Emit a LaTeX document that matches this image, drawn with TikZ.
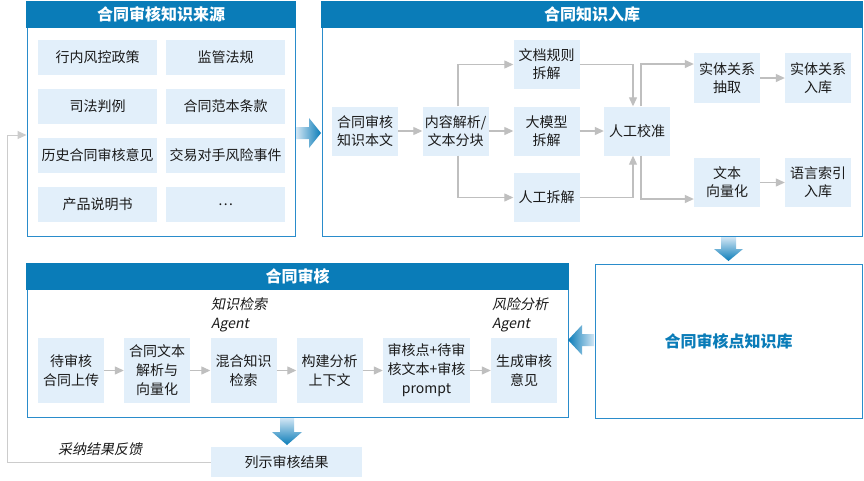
\documentclass[tikz,border=0pt]{standalone}
\usepackage{fontspec}
\setmainfont{Noto Sans CJK SC}
\newfontfamily\itfont{Noto Sans CJK SC}[FakeSlant=0.2]
\usetikzlibrary{arrows.meta,calc}
\definecolor{hdr}{HTML}{0A7CB8}
\definecolor{bdr}{HTML}{2A8CCB}
\definecolor{cellc}{HTML}{E2EFFA}
\definecolor{conn}{HTML}{BFBFBF}
\definecolor{fbc}{HTML}{CCCCCC}
\definecolor{txt}{HTML}{1A1A1A}
\definecolor{lightb}{HTML}{D2E6F4}
\begin{document}
\begin{tikzpicture}[x=1pt,y=-1pt,
  frame/.style={draw=bdr,line width=1pt,fill=white,minimum width=#1,inner sep=0pt},
  cell/.style={fill=cellc,draw=none,inner sep=0pt,align=center,text=txt,
     font=\fontsize{14}{18}\selectfont},
  ttl/.style={text=white,font=\bfseries\fontsize{16}{18}\selectfont,inner sep=0pt},
  conn/.style={draw=conn,line width=1.2pt,-{Triangle[length=9pt,width=8pt]}},
  lab/.style={font=\itfont\fontsize{14}{19}\selectfont,align=left,inner sep=0pt,text=txt}]
\useasboundingbox (0,0) rectangle (864,480);
\fill[white] (0,0) rectangle (864,480);

% ---- frames
\node[frame=268pt,minimum height=235pt] (box1) at (161,118.5) {};
\node[frame=540pt,minimum height=235pt] (box2) at (592,118.5) {};
\node[frame=541pt,minimum height=154pt] (rev) at (297.5,340) {};
\node[frame=267pt,minimum height=154pt,text=hdr,font=\bfseries\fontsize{16}{18}\selectfont] (kpb) at (728.5,341) {合同审核点知识库};

\fill[hdr] ($(box1.north west)+(-0.5,0)$) rectangle ($(box1.north east)+(0.5,27)$);
\fill[hdr] ($(box2.north west)+(-0.5,0)$) rectangle ($(box2.north east)+(0.5,27)$);
\fill[hdr] ($(rev.north west)+(-0.5,0)$) rectangle ($(rev.north east)+(0.5,27)$);
\node[ttl] (t1) at ($(box1.north)+(0,14)$) {合同审核知识来源};
\node[ttl] (t2) at ($(box2.north)+(0,14)$) {合同知识入库};
\node[ttl] (t3) at ($(rev.north)+(0,14)$) {合同审核};

% ---- sources
\tikzset{src/.style={cell,minimum width=119pt,minimum height=35pt}}
\node[src] (s1) at (97.5,57.5) {行内风控政策};
\node[src] (s2) at (225.5,57.5) {监管法规};
\node[src] (s3) at (97.5,106.5) {司法判例};
\node[src] (s4) at (225.5,106.5) {合同范本条款};
\node[src] (s5) at (97.5,155.5) {历史合同审核意见};
\node[src] (s6) at (225.5,155.5) {交易对手风险事件};
\node[src] (s7) at (97.5,204.5) {产品说明书};
\node[src] (s8) at (225.5,204.5) {…};

% ---- knowledge ingestion
\tikzset{kn/.style={cell,minimum width=66pt,minimum height=49pt}}
\node[kn] (kb) at (365,131) {合同审核\\知识本文};
\node[kn] (parse) at (455.5,131) {内容解析/\\文本分块};
\node[kn] (docrule) at (546.5,64.5) {文档规则\\拆解};
\node[kn] (llm) at (546.5,131) {大模型\\拆解};
\node[kn] (manual) at (546.5,197.5) {人工拆解};
\node[kn] (calib) at (637,131) {人工校准};
\node[kn,minimum height=50pt] (ent) at (727,78) {实体关系\\抽取};
\node[kn,minimum height=50pt] (entdb) at (818,78) {实体关系\\入库};
\node[kn] (vec) at (727,182.5) {文本\\向量化};
\node[kn] (idx) at (818,182.5) {语言索引\\入库};

\draw[conn] (kb) -- (parse);
\draw[conn] (parse) -- (llm);
\draw[conn] ($(parse.north)+(2.5,0)$) |- (docrule.west);
\draw[conn] ($(parse.south)+(2.5,0)$) |- (manual.west);
\draw[conn] (llm) -- (calib);
\draw[conn] (docrule.east) -| ($(calib.north)+(-4,0)$);
\draw[conn] (manual.east) -| ($(calib.south)+(-4,0)$);
\draw[conn] ($(calib.north)+(4,0)$) |- ($(ent.west)+(0,-14)$);
\draw[conn] ($(calib.south)+(4,0)$) |- ($(vec.west)+(0,16.5)$);
\draw[conn] (ent) -- (entdb);
\draw[conn] (vec) -- (idx);

% ---- review
\tikzset{rv/.style={cell,minimum width=66pt,minimum height=65pt,font=\fontsize{14}{19}\selectfont}}
\node[rv] (up) at (71,370.5) {待审核\\合同上传};
\node[rv] (parse2) at (157,370.5) {合同文本\\解析与\\向量化};
\node[rv] (retr) at (243.5,370.5) {混合知识\\检索};
\node[rv] (ctx) at (329.5,370.5) {构建分析\\上下文};
\node[rv,minimum width=87pt] (prm) at (426.5,370.5) {审核点+待审\\核文本+审核\\prompt};
\node[rv] (gen) at (524,370.5) {生成审核\\意见};
\node[lab,anchor=west] (ag1) at (211,314.5) {知识检索\\Agent};
\node[lab,anchor=west] (ag2) at (492,314.5) {风险分析\\Agent};

\draw[conn] (up) -- (parse2);
\draw[conn] (parse2) -- (retr);
\draw[conn] (retr) -- (ctx);
\draw[conn] (ctx) -- (prm);
\draw[conn] (prm) -- (gen);

\node[cell,minimum width=151pt,minimum height=30pt] (result) at (286.5,462) {列示审核结果};
\coordinate (fb) at (7,462);
\draw[draw=fbc,line width=1pt,-{Triangle[length=9pt,width=8pt]}] (result.west) -- (fb) |- ($(box1.west)+(0,16.5)$);
\node[lab] (fbl) at (100,449) {采纳结果反馈};

% ---- big arrows
\shade[left color=lightb,right color=hdr] (296,127) -- (309,127) -- (309,118) -- (321,133) -- (309,148) -- (309,139) -- (296,139) -- cycle;
\shade[top color=lightb,bottom color=hdr] (721,237) -- (736,237) -- (736,249) -- (743,249) -- (728.5,261) -- (714,249) -- (721,249) -- cycle;
\shade[left color=hdr,right color=lightb] (594,334) -- (582,334) -- (582,325) -- (568,340) -- (582,355) -- (582,346) -- (594,346) -- cycle;
\shade[top color=lightb,bottom color=hdr] (280,418) -- (294,418) -- (294,432) -- (302,432) -- (287,445) -- (272,432) -- (280,432) -- cycle;
\end{tikzpicture}
\end{document}
